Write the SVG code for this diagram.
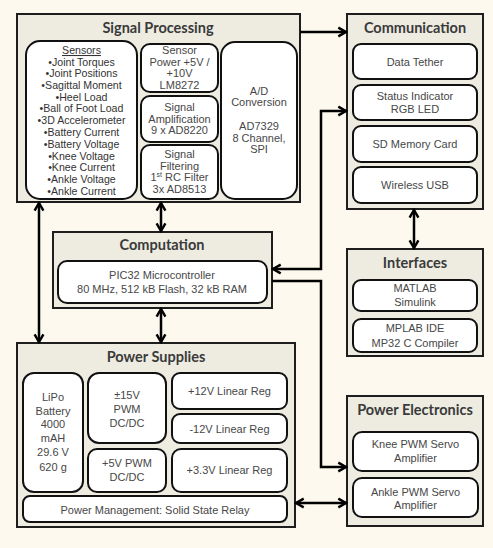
<svg xmlns="http://www.w3.org/2000/svg" width="493" height="548" viewBox="0 0 493 548">
<style>
.panel{fill:#eeece1;stroke:#1e1e1e;stroke-width:2}
.box{fill:#ffffff;stroke:#111;stroke-width:2}
.title{font-family:Lato,"Open Sans",sans-serif;font-weight:bold;font-size:14.5px;fill:#3a3a3a;text-anchor:middle}
.t{font-family:"Liberation Sans",Arial,sans-serif;font-size:11px;fill:#474747;text-anchor:middle}
.s{font-family:"Liberation Sans",Arial,sans-serif;font-size:10.6px;fill:#333;text-anchor:middle}
.c{fill:none;stroke:#000;stroke-width:2.5}
</style>
<defs>
<marker id="ah" viewBox="0 0 10 10" refX="8.5" refY="5" markerWidth="11" markerHeight="12" markerUnits="userSpaceOnUse" orient="auto-start-reverse">
<path d="M1.5,1 L8.5,5 L1.5,9" fill="none" stroke="#000" stroke-width="2.2"/>
</marker>
</defs>
<rect x="0" y="0" width="493" height="548" fill="#fdf9ee"/>

<g id="signal-processing">
<rect class="panel" x="17" y="14" width="283" height="188"/>
<text class="title" x="158" y="33">Signal Processing</text>
<g id="sensors">
<rect class="box" x="26" y="41" width="111" height="158" rx="14"/>
<text class="s" x="81.5" y="54" text-decoration="underline">Sensors</text>
<text class="s" x="81.5" y="66">•Joint Torques</text>
<text class="s" x="81.5" y="77">•Joint Positions</text>
<text class="s" x="81.5" y="89">•Sagittal Moment</text>
<text class="s" x="81.5" y="101">•Heel Load</text>
<text class="s" x="81.5" y="112">•Ball of Foot Load</text>
<text class="s" x="81.5" y="124">•3D Accelerometer</text>
<text class="s" x="81.5" y="136">•Battery Current</text>
<text class="s" x="81.5" y="148">•Battery Voltage</text>
<text class="s" x="81.5" y="160">•Knee Voltage</text>
<text class="s" x="81.5" y="171">•Knee Current</text>
<text class="s" x="81.5" y="183">•Ankle Voltage</text>
<text class="s" x="81.5" y="195">•Ankle Current</text>
</g>
<g id="sensor-power">
<rect class="box" x="141" y="44" width="77" height="48" rx="9"/>
<text class="t" x="179.5" y="54">Sensor</text>
<text class="t" x="179.5" y="66">Power +5V /</text>
<text class="t" x="179.5" y="77">+10V</text>
<text class="t" x="179.5" y="89">LM8272</text>
</g>
<g id="signal-amplification">
<rect class="box" x="141" y="96" width="77" height="46" rx="9"/>
<text class="t" x="179.5" y="111">Signal</text>
<text class="t" x="179.5" y="123">Amplification</text>
<text class="t" x="179.5" y="134">9 x AD8220</text>
</g>
<g id="signal-filtering">
<rect class="box" x="141" y="145" width="77" height="54" rx="9"/>
<text class="t" x="179.5" y="158">Signal</text>
<text class="t" x="179.5" y="170">Filtering</text>
<text class="t" x="179.5" y="181">1<tspan font-size="7" dy="-4">st</tspan><tspan dy="4"> RC Filter</tspan></text>
<text class="t" x="179.5" y="193">3x AD8513</text>
</g>
<g id="ad-conversion">
<rect class="box" x="221" y="42" width="76" height="157" rx="14"/>
<text class="t" x="259" y="95">A/D</text>
<text class="t" x="259" y="106">Conversion</text>
<text class="t" x="259" y="130">AD7329</text>
<text class="t" x="259" y="142">8 Channel,</text>
<text class="t" x="259" y="153">SPI</text>
</g>
</g>

<g id="communication">
<rect class="panel" x="347" y="14" width="136" height="195"/>
<text class="title" x="415" y="33">Communication</text>
<rect class="box" x="353" y="44" width="124" height="35" rx="8"/>
<text class="t" x="415" y="66">Data Tether</text>
<rect class="box" x="353" y="85" width="124" height="35" rx="8"/>
<text class="t" x="415" y="100">Status Indicator</text>
<text class="t" x="415" y="113">RGB LED</text>
<rect class="box" x="353" y="126" width="124" height="36" rx="8"/>
<text class="t" x="415" y="148">SD Memory Card</text>
<rect class="box" x="353" y="167" width="124" height="36" rx="8"/>
<text class="t" x="415" y="189">Wireless USB</text>
</g>

<g id="computation">
<rect class="panel" x="53" y="232" width="219" height="76"/>
<text class="title" x="162" y="250">Computation</text>
<rect class="box" x="58" y="261" width="209" height="42" rx="9"/>
<text class="t" x="162" y="279">PIC32 Microcontroller</text>
<text class="t" x="162" y="293">80 MHz, 512 kB Flash, 32 kB RAM</text>
</g>

<g id="interfaces">
<rect class="panel" x="347" y="249" width="136" height="107"/>
<text class="title" x="415" y="268">Interfaces</text>
<rect class="box" x="353" y="280" width="124" height="31" rx="8"/>
<text class="t" x="415" y="292">MATLAB</text>
<text class="t" x="415" y="306">Simulink</text>
<rect class="box" x="353" y="319" width="124" height="33" rx="8"/>
<text class="t" x="415" y="332">MPLAB IDE</text>
<text class="t" x="415" y="347">MP32 C Compiler</text>
</g>

<g id="power-supplies">
<rect class="panel" x="17" y="343" width="278" height="184"/>
<text class="title" x="156" y="362">Power Supplies</text>
<rect class="box" x="23" y="373" width="60" height="119" rx="11"/>
<text class="t" x="53" y="401">LiPo</text>
<text class="t" x="53" y="415">Battery</text>
<text class="t" x="53" y="428">4000</text>
<text class="t" x="53" y="442">mAH</text>
<text class="t" x="53" y="456">29.6 V</text>
<text class="t" x="53" y="471">620 g</text>
<rect class="box" x="88" y="373" width="78" height="70" rx="11"/>
<text class="t" x="127" y="399">±15V</text>
<text class="t" x="127" y="413">PWM</text>
<text class="t" x="127" y="427">DC/DC</text>
<rect class="box" x="88" y="449" width="78" height="43" rx="9"/>
<text class="t" x="127" y="467">+5V PWM</text>
<text class="t" x="127" y="481">DC/DC</text>
<rect class="box" x="172" y="373" width="115" height="36" rx="8"/>
<text class="t" x="229.5" y="395">+12V Linear Reg</text>
<rect class="box" x="172" y="414" width="115" height="29" rx="8"/>
<text class="t" x="229.5" y="433">-12V Linear Reg</text>
<rect class="box" x="172" y="449" width="115" height="43" rx="9"/>
<text class="t" x="229.5" y="474">+3.3V Linear Reg</text>
<rect class="box" x="23" y="496" width="264" height="26" rx="7"/>
<text class="t" x="155" y="514">Power Management: Solid State Relay</text>
</g>

<g id="power-electronics">
<rect class="panel" x="347" y="396" width="136" height="130"/>
<text class="title" x="415" y="415">Power Electronics</text>
<rect class="box" x="353" y="432" width="125" height="39" rx="9"/>
<text class="t" x="415.5" y="448">Knee PWM Servo</text>
<text class="t" x="415.5" y="462">Amplifier</text>
<rect class="box" x="353" y="478" width="125" height="39" rx="9"/>
<text class="t" x="415.5" y="496">Ankle PWM Servo</text>
<text class="t" x="415.5" y="509">Amplifier</text>
</g>

<g id="connectors">
<path class="c" d="M300,32 L346,32" marker-end="url(#ah)"/>
<path class="c" d="M273,269 L321,269 L321,111 L346,111" marker-start="url(#ah)" marker-end="url(#ah)"/>
<path class="c" d="M272,281 L321,281 L321,467 L346,467" marker-end="url(#ah)"/>
<path class="c" d="M296,503 L346,503" marker-start="url(#ah)" marker-end="url(#ah)"/>
<path class="c" d="M414,210 L414,248" marker-start="url(#ah)" marker-end="url(#ah)"/>
<path class="c" d="M161,203 L161,231" marker-start="url(#ah)" marker-end="url(#ah)"/>
<path class="c" d="M161,309 L161,342" marker-start="url(#ah)" marker-end="url(#ah)"/>
<path class="c" d="M39,203 L39,342" marker-start="url(#ah)" marker-end="url(#ah)"/>
</g>
</svg>
